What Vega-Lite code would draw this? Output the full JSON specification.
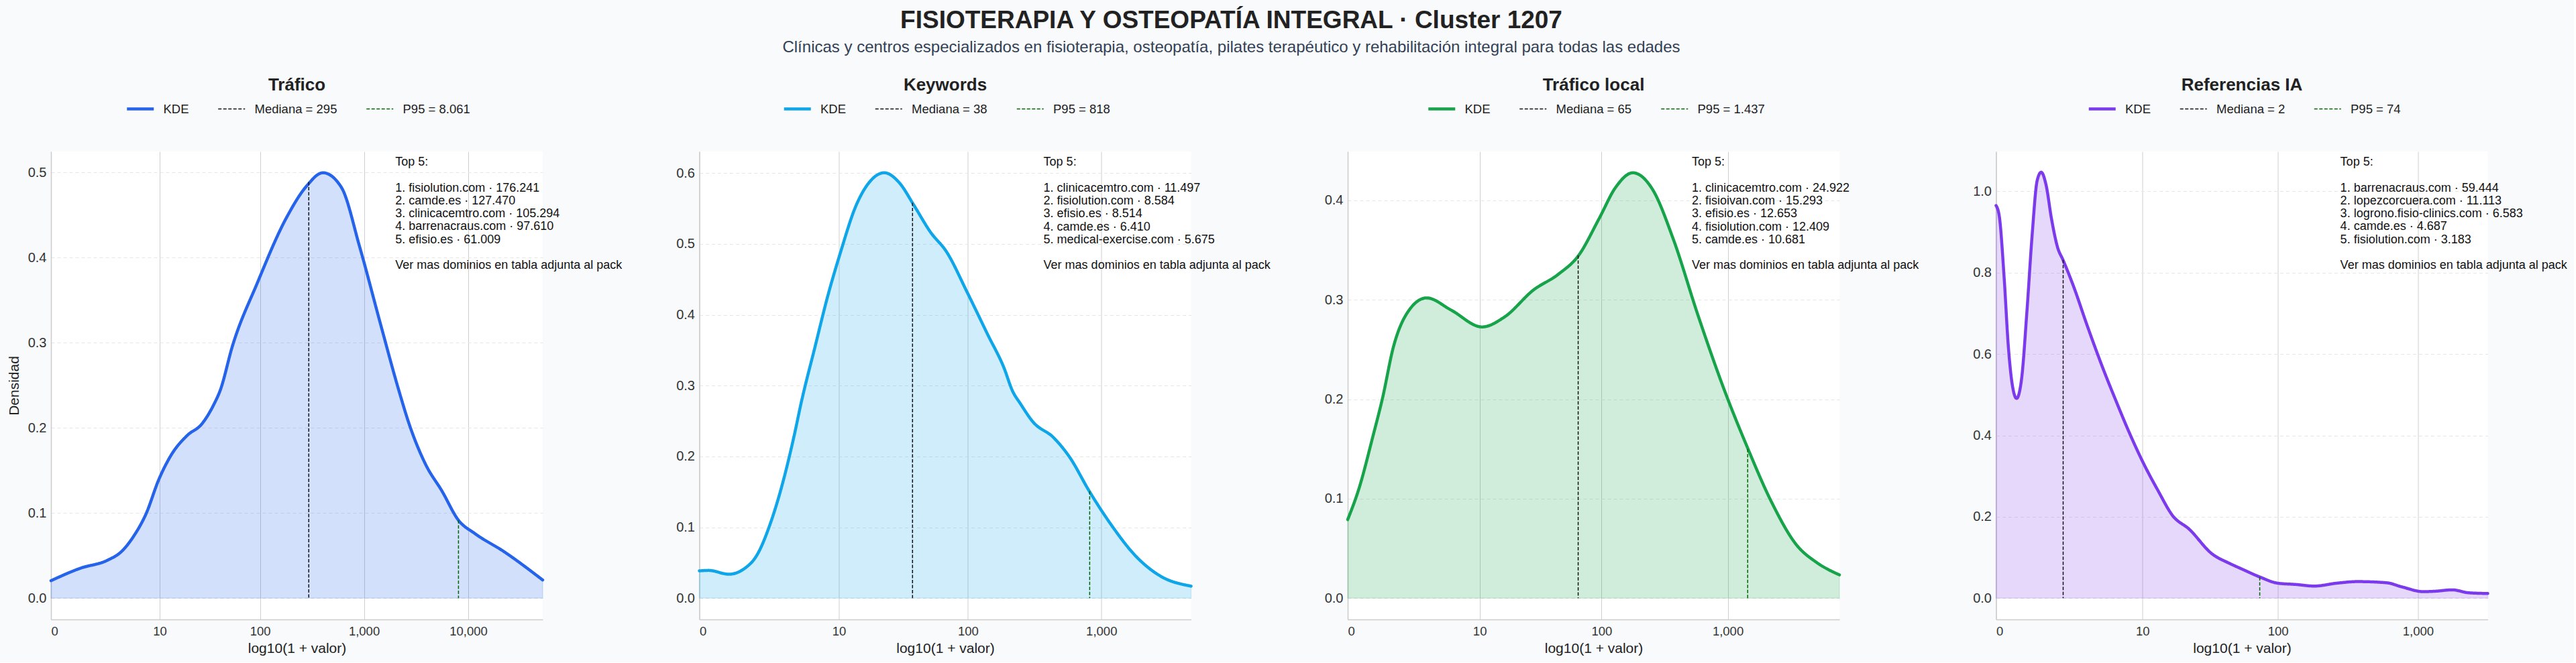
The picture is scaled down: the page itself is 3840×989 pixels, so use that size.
{
  "$schema": "https://vega.github.io/schema/vega-lite/v6.json",
  "background": "#f8fafc",
  "padding": {"left": 10, "right": 10, "top": 11, "bottom": 10},
  "title": {
    "text": "FISIOTERAPIA Y OSTEOPATÍA INTEGRAL · Cluster 1207",
    "subtitle": "Clínicas y centros especializados en fisioterapia, osteopatía, pilates terapéutico y rehabilitación integral para todas las edades",
    "fontSize": 37, "fontWeight": "bold", "color": "#222222",
    "subtitleFontSize": 24, "subtitleColor": "#334155", "subtitleFont": "Liberation Sans",
    "anchor": "middle", "offset": 30, "subtitlePadding": 9, "dx": -83
  },
  "datasets": {
    "k1": [
      {"lx":0,"d":0.0205,"s":"KDE"},{"lx":0.283,"d":0.0352,"s":"KDE"},{"lx":0.539,"d":0.0444,"s":"KDE"},{"lx":0.677,"d":0.0549,"s":"KDE"},
      {"lx":0.795,"d":0.0732,"s":"KDE"},{"lx":0.913,"d":0.0995,"s":"KDE"},{"lx":1.032,"d":0.1389,"s":"KDE"},{"lx":1.150,"d":0.1677,"s":"KDE"},
      {"lx":1.307,"d":0.1913,"s":"KDE"},{"lx":1.445,"d":0.2045,"s":"KDE"},{"lx":1.563,"d":0.228,"s":"KDE"},{"lx":1.622,"d":0.244,"s":"KDE"},
      {"lx":1.740,"d":0.2964,"s":"KDE"},{"lx":1.977,"d":0.370,"s":"KDE"},{"lx":2.253,"d":0.446,"s":"KDE"},{"lx":2.449,"d":0.484,"s":"KDE"},
      {"lx":2.607,"d":0.4998,"s":"KDE"},{"lx":2.784,"d":0.4827,"s":"KDE"},{"lx":2.961,"d":0.412,"s":"KDE"},{"lx":3.158,"d":0.3226,"s":"KDE"},
      {"lx":3.335,"d":0.244,"s":"KDE"},{"lx":3.434,"d":0.2045,"s":"KDE"},{"lx":3.592,"d":0.157,"s":"KDE"},{"lx":3.749,"d":0.1257,"s":"KDE"},
      {"lx":3.906,"d":0.0916,"s":"KDE"},{"lx":4.064,"d":0.0759,"s":"KDE"},{"lx":4.340,"d":0.0549,"s":"KDE"},{"lx":4.714,"d":0.0213,"s":"KDE"}
    ],
    "k2": [
      {"lx":0,"d":0.0385,"s":"KDE"},{"lx":0.068,"d":0.0392,"s":"KDE"},{"lx":0.221,"d":0.0338,"s":"KDE"},{"lx":0.328,"d":0.0407,"s":"KDE"},
      {"lx":0.436,"d":0.0628,"s":"KDE"},{"lx":0.527,"d":0.1038,"s":"KDE"},{"lx":0.619,"d":0.1605,"s":"KDE"},{"lx":0.712,"d":0.2331,"s":"KDE"},
      {"lx":0.758,"d":0.274,"s":"KDE"},{"lx":0.865,"d":0.356,"s":"KDE"},{"lx":0.957,"d":0.4255,"s":"KDE"},{"lx":1.049,"d":0.4853,"s":"KDE"},
      {"lx":1.171,"d":0.5548,"s":"KDE"},{"lx":1.279,"d":0.5894,"s":"KDE"},{"lx":1.380,"d":0.6005,"s":"KDE"},{"lx":1.493,"d":0.5863,"s":"KDE"},
      {"lx":1.601,"d":0.5548,"s":"KDE"},{"lx":1.724,"d":0.517,"s":"KDE"},{"lx":1.846,"d":0.4886,"s":"KDE"},{"lx":1.999,"d":0.4318,"s":"KDE"},
      {"lx":2.153,"d":0.3718,"s":"KDE"},{"lx":2.275,"d":0.3245,"s":"KDE"},{"lx":2.336,"d":0.293,"s":"KDE"},{"lx":2.398,"d":0.274,"s":"KDE"},
      {"lx":2.490,"d":0.2488,"s":"KDE"},{"lx":2.643,"d":0.2268,"s":"KDE"},{"lx":2.766,"d":0.1984,"s":"KDE"},{"lx":2.910,"d":0.1511,"s":"KDE"},
      {"lx":3.073,"d":0.1038,"s":"KDE"},{"lx":3.256,"d":0.0596,"s":"KDE"},{"lx":3.441,"d":0.0312,"s":"KDE"},{"lx":3.670,"d":0.017,"s":"KDE"}
    ],
    "k3": [
      {"lx":0,"d":0.079,"s":"KDE"},{"lx":0.088,"d":0.1098,"s":"KDE"},{"lx":0.201,"d":0.1637,"s":"KDE"},{"lx":0.273,"d":0.200,"s":"KDE"},
      {"lx":0.363,"d":0.2536,"s":"KDE"},{"lx":0.461,"d":0.285,"s":"KDE"},{"lx":0.623,"d":0.3019,"s":"KDE"},
      {"lx":0.817,"d":0.2896,"s":"KDE"},{"lx":1.061,"d":0.2727,"s":"KDE"},{"lx":1.239,"d":0.2828,"s":"KDE"},{"lx":1.466,"d":0.3098,"s":"KDE"},
      {"lx":1.661,"d":0.3255,"s":"KDE"},{"lx":1.823,"d":0.3446,"s":"KDE"},{"lx":1.985,"d":0.3817,"s":"KDE"},{"lx":2.115,"d":0.413,"s":"KDE"},
      {"lx":2.251,"d":0.4277,"s":"KDE"},{"lx":2.407,"d":0.4109,"s":"KDE"},{"lx":2.569,"d":0.3615,"s":"KDE"},{"lx":2.764,"d":0.285,"s":"KDE"},
      {"lx":2.975,"d":0.2087,"s":"KDE"},{"lx":3.152,"d":0.1526,"s":"KDE"},{"lx":3.347,"d":0.0964,"s":"KDE"},{"lx":3.542,"d":0.0537,"s":"KDE"},
      {"lx":3.704,"d":0.0357,"s":"KDE"},{"lx":3.882,"d":0.0234,"s":"KDE"}
    ],
    "k4": [
      {"lx":0,"d":0.965,"s":"KDE"},{"lx":0.023,"d":0.9386,"s":"KDE"},{"lx":0.058,"d":0.785,"s":"KDE"},{"lx":0.087,"d":0.620,"s":"KDE"},
      {"lx":0.117,"d":0.521,"s":"KDE"},{"lx":0.146,"d":0.491,"s":"KDE"},{"lx":0.181,"d":0.5377,"s":"KDE"},{"lx":0.219,"d":0.7025,"s":"KDE"},
      {"lx":0.257,"d":0.8946,"s":"KDE"},{"lx":0.292,"d":1.026,"s":"KDE"},{"lx":0.321,"d":1.047,"s":"KDE"},{"lx":0.356,"d":1.015,"s":"KDE"},
      {"lx":0.394,"d":0.933,"s":"KDE"},{"lx":0.438,"d":0.8616,"s":"KDE"},{"lx":0.476,"d":0.8315,"s":"KDE"},{"lx":0.555,"d":0.7628,"s":"KDE"},
      {"lx":0.643,"d":0.675,"s":"KDE"},{"lx":0.760,"d":0.565,"s":"KDE"},{"lx":0.862,"d":0.4773,"s":"KDE"},{"lx":0.935,"d":0.4168,"s":"KDE"},
      {"lx":1.052,"d":0.329,"s":"KDE"},{"lx":1.154,"d":0.263,"s":"KDE"},{"lx":1.256,"d":0.2026,"s":"KDE"},{"lx":1.373,"d":0.1697,"s":"KDE"},
      {"lx":1.534,"d":0.1094,"s":"KDE"},{"lx":1.665,"d":0.0847,"s":"KDE"},{"lx":1.753,"d":0.0708,"s":"KDE"},{"lx":1.878,"d":0.0517,"s":"KDE"},
      {"lx":2.001,"d":0.0369,"s":"KDE"},{"lx":2.133,"d":0.0336,"s":"KDE"},{"lx":2.264,"d":0.0297,"s":"KDE"},{"lx":2.425,"d":0.0369,"s":"KDE"},
      {"lx":2.571,"d":0.0407,"s":"KDE"},{"lx":2.775,"d":0.0379,"s":"KDE"},{"lx":2.892,"d":0.027,"s":"KDE"},{"lx":3.038,"d":0.016,"s":"KDE"},
      {"lx":3.126,"d":0.0171,"s":"KDE"},{"lx":3.243,"d":0.0204,"s":"KDE"},{"lx":3.360,"d":0.0132,"s":"KDE"},{"lx":3.497,"d":0.0115,"s":"KDE"}
    ],
    "r1": [{"lx":2.4713,"d":0.489,"b":0,"s":"Mediana = 295"},{"lx":3.9065,"d":0.0916,"b":0,"s":"P95 = 8.061"}],
    "r2": [{"lx":1.5911,"d":0.558,"b":0,"s":"Mediana = 38"},{"lx":2.9133,"d":0.151,"b":0,"s":"P95 = 818"}],
    "r3": [{"lx":1.8195,"d":0.3446,"b":0,"s":"Mediana = 65"},{"lx":3.1578,"d":0.150,"b":0,"s":"P95 = 1.437"}],
    "r4": [{"lx":0.4771,"d":0.8315,"b":0,"s":"Mediana = 2"},{"lx":1.8751,"d":0.0517,"b":0,"s":"P95 = 74"}],
    "n1": [
      {"part":"h","t":"Top 5:"},
      {"part":"l","t":"1. fisiolution.com · 176.241\n2. camde.es · 127.470\n3. clinicacemtro.com · 105.294\n4. barrenacraus.com · 97.610\n5. efisio.es · 61.009"},
      {"part":"f","t":"Ver mas dominios en tabla adjunta al pack"}
    ],
    "n2": [
      {"part":"h","t":"Top 5:"},
      {"part":"l","t":"1. clinicacemtro.com · 11.497\n2. fisiolution.com · 8.584\n3. efisio.es · 8.514\n4. camde.es · 6.410\n5. medical-exercise.com · 5.675"},
      {"part":"f","t":"Ver mas dominios en tabla adjunta al pack"}
    ],
    "n3": [
      {"part":"h","t":"Top 5:"},
      {"part":"l","t":"1. clinicacemtro.com · 24.922\n2. fisioivan.com · 15.293\n3. efisio.es · 12.653\n4. fisiolution.com · 12.409\n5. camde.es · 10.681"},
      {"part":"f","t":"Ver mas dominios en tabla adjunta al pack"}
    ],
    "n4": [
      {"part":"h","t":"Top 5:"},
      {"part":"l","t":"1. barrenacraus.com · 59.444\n2. lopezcorcuera.com · 11.113\n3. logrono.fisio-clinics.com · 6.583\n4. camde.es · 4.687\n5. fisiolution.com · 3.183"},
      {"part":"f","t":"Ver mas dominios en tabla adjunta al pack"}
    ]
  },
  "spacing": 233.5,
  "bounds": "flush",
  "hconcat": [
    {
      "width": 733, "height": 698,
      "title": {"text": "Tráfico"},
      "layer": [
        {"data": {"name": "k1"},
         "mark": {"type": "area", "interpolate": "monotone", "color": "#2563eb", "fillOpacity": 0.2, "stroke": "#2563eb", "strokeOpacity": 0.15, "strokeWidth": 1.5},
         "encoding": {
           "x": {"field": "lx", "type": "quantitative", "scale": {"domain": [0, 4.714], "nice": false, "zero": false},
                 "axis": {"title": "log10(1 + valor)", "values": [0, 1.0414, 2.0043, 3.0004, 4.0], "labelExpr": "datum.value < 0.5 ? '0' : format(pow(10, round(datum.value)), ',')"}},
           "y": {"field": "d", "type": "quantitative", "scale": {"domain": [-0.025, 0.5248], "nice": false, "zero": false},
                 "axis": {"title": "Densidad", "values": [0, 0.1, 0.2, 0.3, 0.4, 0.5], "format": ".1f"}}
         }},
        {"data": {"name": "k1"},
         "mark": {"type": "line", "interpolate": "monotone", "strokeWidth": 4.5, "strokeCap": "round"},
         "encoding": {
           "x": {"field": "lx", "type": "quantitative"},
           "y": {"field": "d", "type": "quantitative"},
           "color": {"field": "s", "type": "nominal", "scale": {"domain": ["KDE", "Mediana = 295", "P95 = 8.061"], "range": ["#2563eb", "#111111", "darkgreen"]},
                     "legend": {"orient": "none", "legendX": 124, "legendY": -72.8, "direction": "horizontal", "title": null, "encode": {"symbols": {"update": {"strokeWidth": {"signal": "datum.value === 'KDE' ? 4.5 : 1.5"}}}}}},
           "strokeDash": {"field": "s", "type": "nominal", "scale": {"domain": ["KDE", "Mediana = 295", "P95 = 8.061"], "range": [[1, 0], [5, 2.5], [5, 2.5]]},
                     "legend": {"orient": "none", "legendX": 124, "legendY": -72.8, "direction": "horizontal", "title": null}}
         }},
        {"data": {"name": "r1"},
         "mark": {"type": "rule", "strokeWidth": 1.5},
         "encoding": {
           "x": {"field": "lx", "type": "quantitative"},
           "y": {"field": "d", "type": "quantitative"},
           "y2": {"field": "b"},
           "color": {"field": "s", "type": "nominal"},
           "strokeDash": {"field": "s", "type": "nominal"}
         }},
        {"data": {"name": "n1"}, "transform": [{"filter": "datum.part === 'h'"}],
         "mark": {"type": "text", "align": "left", "baseline": "top", "fontSize": 18, "lineHeight": 19.25, "lineBreak": "\n", "color": "#111111"},
         "encoding": {"x": {"datum": 3.300, "type": "quantitative"}, "y": {"datum": 0.5191, "type": "quantitative"}, "text": {"field": "t"}}},
        {"data": {"name": "n1"}, "transform": [{"filter": "datum.part === 'l'"}],
         "mark": {"type": "text", "align": "left", "baseline": "top", "fontSize": 18, "lineHeight": 19.25, "lineBreak": "\n", "color": "#111111", "dy": 38.5},
         "encoding": {"x": {"datum": 3.300, "type": "quantitative"}, "y": {"datum": 0.5191, "type": "quantitative"}, "text": {"field": "t"}}},
        {"data": {"name": "n1"}, "transform": [{"filter": "datum.part === 'f'"}],
         "mark": {"type": "text", "align": "left", "baseline": "top", "fontSize": 18, "lineHeight": 19.25, "lineBreak": "\n", "color": "#111111", "dy": 154},
         "encoding": {"x": {"datum": 3.300, "type": "quantitative"}, "y": {"datum": 0.5191, "type": "quantitative"}, "text": {"field": "t"}}}
      ]
    },
    {
      "width": 733, "height": 698,
      "title": {"text": "Keywords"},
      "layer": [
        {"data": {"name": "k2"},
         "mark": {"type": "area", "interpolate": "monotone", "color": "#0ea5e9", "fillOpacity": 0.2, "stroke": "#0ea5e9", "strokeOpacity": 0.15, "strokeWidth": 1.5},
         "encoding": {
           "x": {"field": "lx", "type": "quantitative", "scale": {"domain": [0, 3.670], "nice": false, "zero": false},
                 "axis": {"title": "log10(1 + valor)", "values": [0, 1.0414, 2.0043, 3.0004], "labelExpr": "datum.value < 0.5 ? '0' : format(pow(10, round(datum.value)), ',')"}},
           "y": {"field": "d", "type": "quantitative", "scale": {"domain": [-0.0300, 0.6305], "nice": false, "zero": false},
                 "axis": {"title": null, "values": [0, 0.1, 0.2, 0.3, 0.4, 0.5, 0.6], "format": ".1f"}}
         }},
        {"data": {"name": "k2"},
         "mark": {"type": "line", "interpolate": "monotone", "strokeWidth": 4.5, "strokeCap": "round"},
         "encoding": {
           "x": {"field": "lx", "type": "quantitative"},
           "y": {"field": "d", "type": "quantitative"},
           "color": {"field": "s", "type": "nominal", "scale": {"domain": ["KDE", "Mediana = 38", "P95 = 818"], "range": ["#0ea5e9", "#111111", "darkgreen"]},
                     "legend": {"orient": "none", "legendX": 137, "legendY": -72.8, "direction": "horizontal", "title": null, "encode": {"symbols": {"update": {"strokeWidth": {"signal": "datum.value === 'KDE' ? 4.5 : 1.5"}}}}}},
           "strokeDash": {"field": "s", "type": "nominal", "scale": {"domain": ["KDE", "Mediana = 38", "P95 = 818"], "range": [[1, 0], [5, 2.5], [5, 2.5]]},
                     "legend": {"orient": "none", "legendX": 137, "legendY": -72.8, "direction": "horizontal", "title": null}}
         }},
        {"data": {"name": "r2"},
         "mark": {"type": "rule", "strokeWidth": 1.5},
         "encoding": {
           "x": {"field": "lx", "type": "quantitative"},
           "y": {"field": "d", "type": "quantitative"},
           "y2": {"field": "b"},
           "color": {"field": "s", "type": "nominal"},
           "strokeDash": {"field": "s", "type": "nominal"}
         }},
        {"data": {"name": "n2"}, "transform": [{"filter": "datum.part === 'h'"}],
         "mark": {"type": "text", "align": "left", "baseline": "top", "fontSize": 18, "lineHeight": 19.25, "lineBreak": "\n", "color": "#111111"},
         "encoding": {"x": {"datum": 2.569, "type": "quantitative"}, "y": {"datum": 0.6236, "type": "quantitative"}, "text": {"field": "t"}}},
        {"data": {"name": "n2"}, "transform": [{"filter": "datum.part === 'l'"}],
         "mark": {"type": "text", "align": "left", "baseline": "top", "fontSize": 18, "lineHeight": 19.25, "lineBreak": "\n", "color": "#111111", "dy": 38.5},
         "encoding": {"x": {"datum": 2.569, "type": "quantitative"}, "y": {"datum": 0.6236, "type": "quantitative"}, "text": {"field": "t"}}},
        {"data": {"name": "n2"}, "transform": [{"filter": "datum.part === 'f'"}],
         "mark": {"type": "text", "align": "left", "baseline": "top", "fontSize": 18, "lineHeight": 19.25, "lineBreak": "\n", "color": "#111111", "dy": 154},
         "encoding": {"x": {"datum": 2.569, "type": "quantitative"}, "y": {"datum": 0.6236, "type": "quantitative"}, "text": {"field": "t"}}}
      ]
    },
    {
      "width": 733, "height": 698,
      "title": {"text": "Tráfico local"},
      "layer": [
        {"data": {"name": "k3"},
         "mark": {"type": "area", "interpolate": "monotone", "color": "#16a34a", "fillOpacity": 0.2, "stroke": "#16a34a", "strokeOpacity": 0.15, "strokeWidth": 1.5},
         "encoding": {
           "x": {"field": "lx", "type": "quantitative", "scale": {"domain": [0, 3.882], "nice": false, "zero": false},
                 "axis": {"title": "log10(1 + valor)", "values": [0, 1.0414, 2.0043, 3.0004], "labelExpr": "datum.value < 0.5 ? '0' : format(pow(10, round(datum.value)), ',')"}},
           "y": {"field": "d", "type": "quantitative", "scale": {"domain": [-0.0214, 0.4491], "nice": false, "zero": false},
                 "axis": {"title": null, "values": [0, 0.1, 0.2, 0.3, 0.4], "format": ".1f"}}
         }},
        {"data": {"name": "k3"},
         "mark": {"type": "line", "interpolate": "monotone", "strokeWidth": 4.5, "strokeCap": "round"},
         "encoding": {
           "x": {"field": "lx", "type": "quantitative"},
           "y": {"field": "d", "type": "quantitative"},
           "color": {"field": "s", "type": "nominal", "scale": {"domain": ["KDE", "Mediana = 65", "P95 = 1.437"], "range": ["#16a34a", "#111111", "darkgreen"]},
                     "legend": {"orient": "none", "legendX": 131, "legendY": -72.8, "direction": "horizontal", "title": null, "encode": {"symbols": {"update": {"strokeWidth": {"signal": "datum.value === 'KDE' ? 4.5 : 1.5"}}}}}},
           "strokeDash": {"field": "s", "type": "nominal", "scale": {"domain": ["KDE", "Mediana = 65", "P95 = 1.437"], "range": [[1, 0], [5, 2.5], [5, 2.5]]},
                     "legend": {"orient": "none", "legendX": 131, "legendY": -72.8, "direction": "horizontal", "title": null}}
         }},
        {"data": {"name": "r3"},
         "mark": {"type": "rule", "strokeWidth": 1.5},
         "encoding": {
           "x": {"field": "lx", "type": "quantitative"},
           "y": {"field": "d", "type": "quantitative"},
           "y2": {"field": "b"},
           "color": {"field": "s", "type": "nominal"},
           "strokeDash": {"field": "s", "type": "nominal"}
         }},
        {"data": {"name": "n3"}, "transform": [{"filter": "datum.part === 'h'"}],
         "mark": {"type": "text", "align": "left", "baseline": "top", "fontSize": 18, "lineHeight": 19.25, "lineBreak": "\n", "color": "#111111"},
         "encoding": {"x": {"datum": 2.717, "type": "quantitative"}, "y": {"datum": 0.4442, "type": "quantitative"}, "text": {"field": "t"}}},
        {"data": {"name": "n3"}, "transform": [{"filter": "datum.part === 'l'"}],
         "mark": {"type": "text", "align": "left", "baseline": "top", "fontSize": 18, "lineHeight": 19.25, "lineBreak": "\n", "color": "#111111", "dy": 38.5},
         "encoding": {"x": {"datum": 2.717, "type": "quantitative"}, "y": {"datum": 0.4442, "type": "quantitative"}, "text": {"field": "t"}}},
        {"data": {"name": "n3"}, "transform": [{"filter": "datum.part === 'f'"}],
         "mark": {"type": "text", "align": "left", "baseline": "top", "fontSize": 18, "lineHeight": 19.25, "lineBreak": "\n", "color": "#111111", "dy": 154},
         "encoding": {"x": {"datum": 2.717, "type": "quantitative"}, "y": {"datum": 0.4442, "type": "quantitative"}, "text": {"field": "t"}}}
      ]
    },
    {
      "width": 733, "height": 698,
      "title": {"text": "Referencias IA"},
      "layer": [
        {"data": {"name": "k4"},
         "mark": {"type": "area", "interpolate": "monotone", "color": "#7c3aed", "fillOpacity": 0.2, "stroke": "#7c3aed", "strokeOpacity": 0.15, "strokeWidth": 1.5},
         "encoding": {
           "x": {"field": "lx", "type": "quantitative", "scale": {"domain": [0, 3.497], "nice": false, "zero": false},
                 "axis": {"title": "log10(1 + valor)", "values": [0, 1.0414, 2.0043, 3.0004], "labelExpr": "datum.value < 0.5 ? '0' : format(pow(10, round(datum.value)), ',')"}},
           "y": {"field": "d", "type": "quantitative", "scale": {"domain": [-0.0523, 1.0979], "nice": false, "zero": false},
                 "axis": {"title": null, "values": [0, 0.2, 0.4, 0.6, 0.8, 1.0], "format": ".1f"}}
         }},
        {"data": {"name": "k4"},
         "mark": {"type": "line", "interpolate": "monotone", "strokeWidth": 4.5, "strokeCap": "round"},
         "encoding": {
           "x": {"field": "lx", "type": "quantitative"},
           "y": {"field": "d", "type": "quantitative"},
           "color": {"field": "s", "type": "nominal", "scale": {"domain": ["KDE", "Mediana = 2", "P95 = 74"], "range": ["#7c3aed", "#111111", "darkgreen"]},
                     "legend": {"orient": "none", "legendX": 149, "legendY": -72.8, "direction": "horizontal", "title": null, "encode": {"symbols": {"update": {"strokeWidth": {"signal": "datum.value === 'KDE' ? 4.5 : 1.5"}}}}}},
           "strokeDash": {"field": "s", "type": "nominal", "scale": {"domain": ["KDE", "Mediana = 2", "P95 = 74"], "range": [[1, 0], [5, 2.5], [5, 2.5]]},
                     "legend": {"orient": "none", "legendX": 149, "legendY": -72.8, "direction": "horizontal", "title": null}}
         }},
        {"data": {"name": "r4"},
         "mark": {"type": "rule", "strokeWidth": 1.5},
         "encoding": {
           "x": {"field": "lx", "type": "quantitative"},
           "y": {"field": "d", "type": "quantitative"},
           "y2": {"field": "b"},
           "color": {"field": "s", "type": "nominal"},
           "strokeDash": {"field": "s", "type": "nominal"}
         }},
        {"data": {"name": "n4"}, "transform": [{"filter": "datum.part === 'h'"}],
         "mark": {"type": "text", "align": "left", "baseline": "top", "fontSize": 18, "lineHeight": 19.25, "lineBreak": "\n", "color": "#111111"},
         "encoding": {"x": {"datum": 2.448, "type": "quantitative"}, "y": {"datum": 1.086, "type": "quantitative"}, "text": {"field": "t"}}},
        {"data": {"name": "n4"}, "transform": [{"filter": "datum.part === 'l'"}],
         "mark": {"type": "text", "align": "left", "baseline": "top", "fontSize": 18, "lineHeight": 19.25, "lineBreak": "\n", "color": "#111111", "dy": 38.5},
         "encoding": {"x": {"datum": 2.448, "type": "quantitative"}, "y": {"datum": 1.086, "type": "quantitative"}, "text": {"field": "t"}}},
        {"data": {"name": "n4"}, "transform": [{"filter": "datum.part === 'f'"}],
         "mark": {"type": "text", "align": "left", "baseline": "top", "fontSize": 18, "lineHeight": 19.25, "lineBreak": "\n", "color": "#111111", "dy": 154},
         "encoding": {"x": {"datum": 2.448, "type": "quantitative"}, "y": {"datum": 1.086, "type": "quantitative"}, "text": {"field": "t"}}}
      ]
    }
  ],
  "resolve": {
    "scale": {"x": "independent", "y": "independent", "color": "independent", "strokeDash": "independent"},
    "legend": {"color": "independent", "strokeDash": "independent"}
  },
  "config": {
    "font": "Liberation Sans",
    "view": {"fill": "white", "stroke": null},
    "title": {"fontSize": 26, "fontWeight": "bold", "color": "#222222", "anchor": "middle", "offset": 13.5},
    "axis": {
      "labelFontSize": 18.5, "labelColor": "#333333", "labelPadding": 8,
      "titleFontSize": 21, "titleFontWeight": "normal", "titleColor": "#222222", "titlePadding": 6,
      "domainColor": "#cccccc", "domainWidth": 1.5, "ticks": false
    },
    "axisX": {"grid": true, "gridColor": "#cfcfcf", "gridWidth": 1},
    "axisY": {"grid": true, "gridColor": "#e6e6e6", "gridDash": [5, 4], "gridWidth": 1, "titlePadding": 10, "labelFontSize": 20, "labelPadding": 7},
    "legend": {
      "symbolType": "stroke", "symbolSize": 1600, "labelFontSize": 18.5, "labelColor": "#222222",
      "columnPadding": 40, "labelOffset": 25, "symbolStrokeWidth": 1.5
    }
  }
}
